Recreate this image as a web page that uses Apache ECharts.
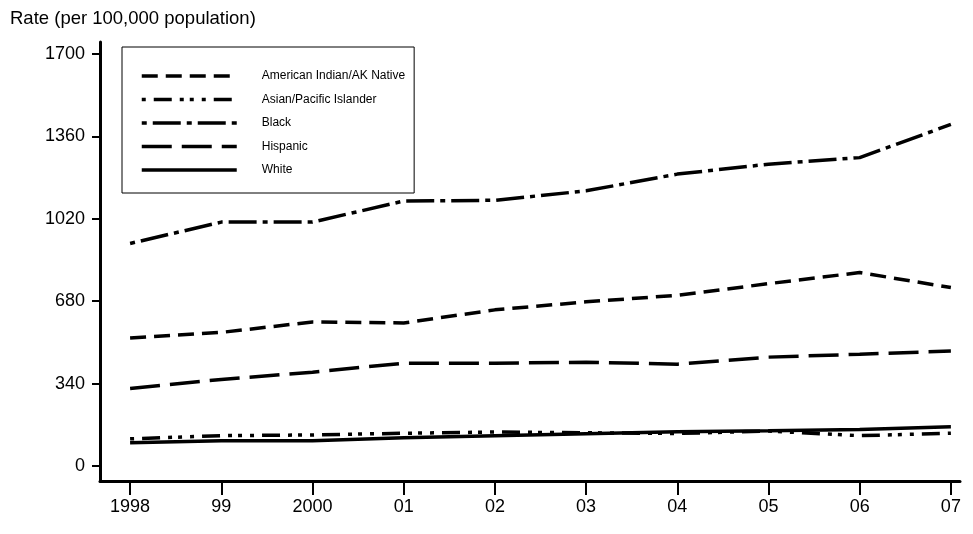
<!DOCTYPE html>
<html>
<head>
<meta charset="utf-8">
<script src="https://cdn.jsdelivr.net/npm/echarts@6/dist/echarts.min.js"></script>
<style>
  html, body { margin: 0; padding: 0; background: #fff; }
  #main { width: 973px; height: 534px; }
</style>
</head>
<body>
<div id="main"></div>
<script>
  // years on the x axis
  var years = ['1998', '99', '2000', '01', '02', '03', '04', '05', '06', '07'];
  var yTicks = [0, 340, 680, 1020, 1360, 1700];

  // rates per 100,000 population
  var amIndian = [528, 551, 594, 590, 644, 677, 704, 752, 798, 736];
  var asian = [112, 125, 128, 135, 140, 137, 134, 144, 125, 135];
  var black = [918, 1006, 1006, 1093, 1096, 1135, 1204, 1245, 1272, 1409];
  var hispanic = [320, 357, 387, 424, 424, 428, 420, 449, 461, 474];
  var white = [96, 104, 104, 116, 125, 133, 141, 145, 150, 162];

  function pts(arr) {
    return arr.map(function (v, i) { return [i, v]; });
  }

  var myChart = echarts.init(document.getElementById('main'));

  function line(name, data, dash) {
    return {
      name: name,
      type: 'line',
      data: pts(data),
      symbol: 'none',
      silent: true,
      itemStyle: { color: '#000' },
      lineStyle: {
        color: '#000',
        width: 3.5,
        type: dash,
        cap: 'butt'
      }
    };
  }

  var option = {
    animation: false,
    backgroundColor: '#fff',
    textStyle: { fontFamily: 'Liberation Sans, Arial, sans-serif' },
    grid: { left: 100, right: 13, top: 42, bottom: 53, containLabel: false, outerBoundsMode: 'none' },
    legend: {
      orient: 'vertical',
      left: 122,
      top: 47,
      itemWidth: 95,
      itemHeight: 14,
      itemGap: 11.5,
      padding: [23, 9, 17, 18],
      borderColor: '#000',
      borderWidth: 1,
      backgroundColor: '#fff',
      itemStyle: { opacity: 0 },
      lineStyle: { color: '#000', width: 3.5, type: 'inherit' },
      textStyle: { color: '#000', fontSize: 12, padding: [0, 0, 0, 20] },
      data: ['American Indian/AK Native', 'Asian/Pacific Islander', 'Black', 'Hispanic', 'White']
    },
    xAxis: {
      type: 'value',
      min: -0.33,
      max: 9.1,
      splitLine: { show: false },
      axisLine: { onZero: false, lineStyle: { color: '#000', width: 3 } },
      axisTick: {
        customValues: [0, 1, 2, 3, 4, 5, 6, 7, 8, 9],
        length: 14,
        lineStyle: { color: '#000', width: 2 }
      },
      axisLabel: {
        customValues: [0, 1, 2, 3, 4, 5, 6, 7, 8, 9],
        margin: 17,
        fontSize: 18,
        color: '#000',
        formatter: function (v) { return years[Math.round(v)]; }
      }
    },
    yAxis: {
      type: 'value',
      min: -62,
      max: 1749,
      name: 'Rate (per 100,000 population)',
      nameLocation: 'end',
      nameGap: 14,
      nameTextStyle: { color: '#000', fontSize: 18.5, align: 'left', padding: [0, 0, 0, -90] },
      splitLine: { show: false },
      axisLine: { show: true, onZero: false, lineStyle: { color: '#000', width: 3 } },
      axisTick: {
        show: true,
        customValues: yTicks,
        length: 8,
        lineStyle: { color: '#000', width: 2 }
      },
      axisLabel: {
        customValues: yTicks,
        margin: 15,
        fontSize: 18,
        color: '#000',
        formatter: function (v) { return String(v); }
      }
    },
    series: [
      line('American Indian/AK Native', amIndian, [16, 8]),
      line('Asian/Pacific Islander', asian, [4, 8, 18, 8, 4, 6, 4, 8]),
      line('Black', black, [5, 6, 28, 6]),
      line('Hispanic', hispanic, [30, 10]),
      line('White', white, 'solid')
    ]
  };
  myChart.setOption(option);
  window.addEventListener("resize", () => { myChart.resize(); });
</script>
</body>
</html>
